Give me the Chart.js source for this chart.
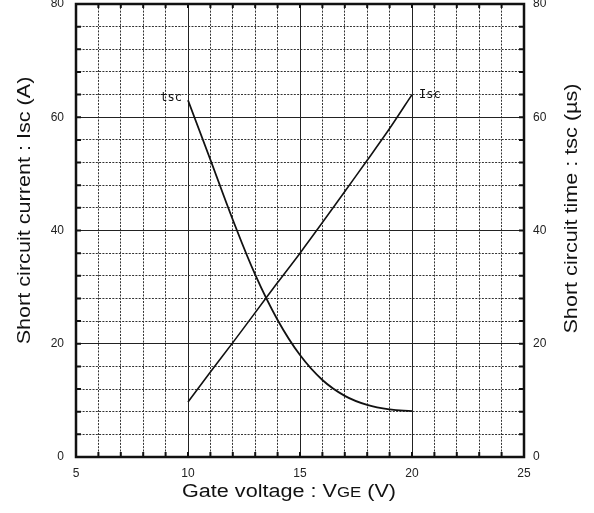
<!DOCTYPE html>
<html>
<head>
<meta charset="utf-8">
<script src="https://cdn.jsdelivr.net/npm/chart.js@4.4.1/dist/chart.umd.min.js"></script>
<style>
  html, body { margin: 0; padding: 0; background: #fff; }
  #wrap { width: 594px; height: 513px; }
</style>
</head>
<body>
<div id="wrap"><canvas id="myChart" width="594" height="513"></canvas></div>
<script>
// data
var vge = [10, 11, 12, 13, 14, 15, 16, 17, 18, 19, 20];
var isc = [9.7, 15.0, 20.2, 25.5, 30.8, 36.0, 41.4, 46.9, 52.4, 58.0, 64.0];
var tsc = [63.0, 52.5, 41.9, 32.2, 24.2, 18.0, 13.6, 10.8, 9.2, 8.4, 8.1];

var xTicks = [5, 10, 15, 20, 25];
var yTicks = [0, 20, 40, 60, 80];

var tickFont = { family: "'Liberation Sans', Arial, sans-serif", size: 12 };

function pts(ys) {
  return vge.map(function (v, i) { return { x: v, y: ys[i] }; });
}

// force sizes so the plot box sits where it does in the original
function fixSize(w, h) {
  return function (scale) {
    if (w !== null) scale.width = w;
    if (h !== null) scale.height = h;
    scale.paddingTop = 0;
    scale.paddingBottom = 0;
    scale.paddingLeft = 0;
    scale.paddingRight = 0;
  };
}

// text drawn a bit wider than the font, like the scanned original
function wideText(c, txt, x, y, stretch) {
  c.save();
  c.translate(x, y);
  c.scale(stretch, 1);
  c.fillText(txt, 0, 0);
  c.restore();
}

const frame = {
  id: "frame",
  afterDraw(chart) {
    const c = chart.ctx;
    const a = chart.chartArea;
    const sx = chart.scales.x, sy = chart.scales.y;
    c.save();
    c.strokeStyle = "#111";
    // little inward ticks on the border
    c.lineWidth = 2;
    for (let v = 5; v <= 25; v++) {
      const px = sx.getPixelForValue(v);
      c.beginPath();
      c.moveTo(px, a.bottom); c.lineTo(px, a.bottom - 5);
      c.moveTo(px, a.top); c.lineTo(px, a.top + 4);
      c.stroke();
    }
    for (let v = 0; v <= 80; v += 4) {
      const py = sy.getPixelForValue(v);
      c.beginPath();
      c.moveTo(a.left, py); c.lineTo(a.left + 5, py);
      c.moveTo(a.right, py); c.lineTo(a.right - 5, py);
      c.stroke();
    }
    c.lineWidth = 2.5;
    c.strokeRect(a.left, a.top, a.right - a.left, a.bottom - a.top);

    // curve labels
    c.fillStyle = "#111";
    c.font = "12px 'DejaVu Sans Mono', monospace";
    c.textBaseline = "middle";
    const m0 = chart.getDatasetMeta(1).data[0];
    c.textAlign = "right";
    c.fillText("tsc", m0.x - 6, m0.y - 2);
    const m1 = chart.getDatasetMeta(0).data[vge.length - 1];
    c.textAlign = "left";
    c.fillText("Isc", m1.x + 7, m1.y);

    // axis titles
    const st = 1.2;
    c.fillStyle = "#111";
    c.textBaseline = "middle";
    const big = "18px 'Liberation Sans', Arial, sans-serif";
    const small = "14px 'Liberation Sans', Arial, sans-serif";
    const parts = [["Gate voltage : V", big], ["GE", small], [" (V)", big]];
    let total = 0;
    parts.forEach(function (p) { c.font = p[1]; total += c.measureText(p[0]).width * st; });
    let x0 = (a.left + a.right) / 2 - 11 - total / 2;
    const yT = a.bottom + 35;
    c.textAlign = "left";
    parts.forEach(function (p) {
      c.font = p[1];
      wideText(c, p[0], x0, p[1] === small ? yT + 1 : yT, st);
      x0 += c.measureText(p[0]).width * st;
    });

    c.font = big;
    c.textAlign = "center";
    c.save();
    c.translate(25, (a.top + a.bottom) / 2 - 20);
    c.rotate(-Math.PI / 2);
    wideText(c, "Short circuit current : Isc (A)", 0, 0, st);
    c.restore();
    c.save();
    c.translate(a.right + 48, (a.top + a.bottom) / 2 - 22);
    c.rotate(-Math.PI / 2);
    wideText(c, "Short circuit time : tsc (\u00b5s)", 0, 0, st);
    c.restore();
    c.restore();
  }
};

const ctx = document.getElementById("myChart");
new Chart(ctx, {
  type: "line",
  data: {
    datasets: [
      {
        label: "Isc",
        data: pts(isc),
        borderColor: "#111",
        borderWidth: 1.6,
        pointRadius: 0,
        tension: 0.3,
        xAxisID: "x",
        yAxisID: "y",
      },
      {
        label: "tsc",
        data: pts(tsc),
        borderColor: "#111",
        borderWidth: 1.8,
        pointRadius: 0,
        tension: 0.4,
        xAxisID: "x",
        yAxisID: "y1",
      },
    ],
  },
  options: {
    responsive: false,
    animation: false,
    layout: { padding: { top: 4, left: 0, right: 0, bottom: 0 } },
    plugins: {
      legend: { display: false },
      tooltip: { enabled: false },
    },
    scales: {
      x: {
        type: "linear",
        position: "bottom",
        min: 5,
        max: 25,
        ticks: {
          stepSize: 1,
          autoSkip: false,
          maxRotation: 0,
          padding: 9,
          color: "#222",
          font: tickFont,
          callback: function (v) { return xTicks.indexOf(v) >= 0 ? v : ""; },
        },
        grid: { color: "#333", lineWidth: 1, drawTicks: false },
        border: { display: false, dash: [2, 1.3] },
        afterFit: fixSize(null, 56),
      },
      xMajor: {
        type: "linear",
        position: "top",
        min: 5,
        max: 25,
        ticks: { stepSize: 5, display: false },
        grid: { color: "#222", lineWidth: 1, drawTicks: false },
        border: { display: false },
        afterFit: fixSize(null, 0),
      },
      y: {
        type: "linear",
        position: "left",
        min: 0,
        max: 80,
        ticks: {
          stepSize: 4,
          autoSkip: false,
          padding: 12,
          color: "#222",
          font: tickFont,
          callback: function (v) { return yTicks.indexOf(v) >= 0 ? v : ""; },
        },
        grid: { color: "#333", lineWidth: 1, drawTicks: false },
        border: { display: false, dash: [2, 1.3] },
        afterFit: fixSize(76, null),
      },
      yMajor: {
        type: "linear",
        position: "left",
        min: 0,
        max: 80,
        ticks: { stepSize: 20, display: false },
        grid: { color: "#222", lineWidth: 1, drawTicks: false },
        border: { display: false },
        afterFit: fixSize(0, null),
      },
      y1: {
        type: "linear",
        position: "right",
        min: 0,
        max: 80,
        ticks: {
          stepSize: 4,
          autoSkip: false,
          padding: 9,
          color: "#222",
          font: tickFont,
          callback: function (v) { return yTicks.indexOf(v) >= 0 ? v : ""; },
        },
        grid: { drawOnChartArea: false, drawTicks: false },
        border: { display: false },
        afterFit: fixSize(70, null),
      },
    },
  },
  plugins: [frame],
});
</script>
</body>
</html>
